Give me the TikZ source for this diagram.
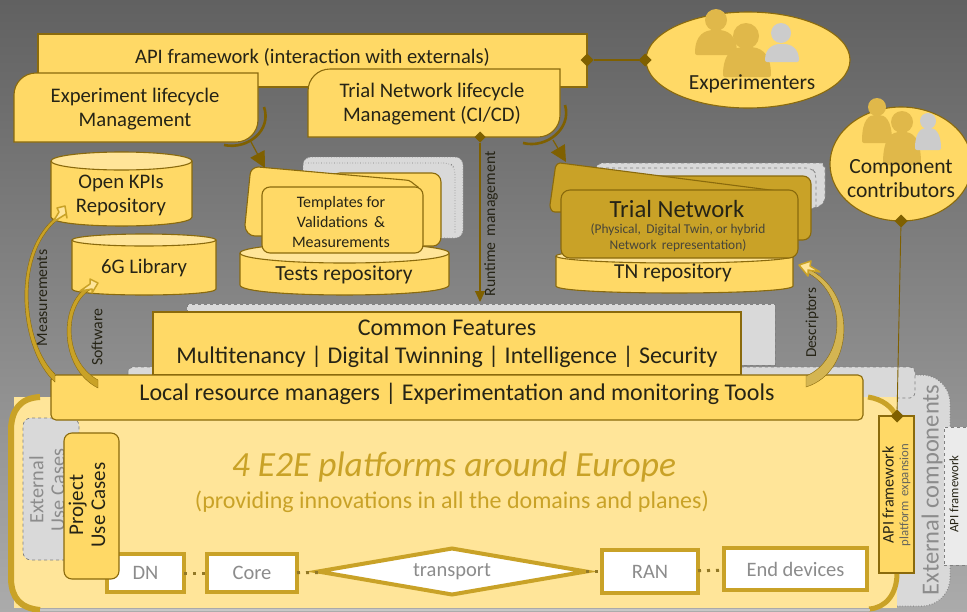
\documentclass[tikz,border=0pt]{standalone}
\usepackage{fontspec}
\setmainfont{Carlito}
\usetikzlibrary{arrows.meta,shapes.geometric,calc}
\definecolor{goldfill}{HTML}{FFD966}
\definecolor{goldlite}{HTML}{FFE599}
\definecolor{goldedge}{HTML}{8A6A0C}
\definecolor{goldmid}{HTML}{C9A227}
\definecolor{golddark}{HTML}{7F6000}
\definecolor{persona}{HTML}{E0B84A}
\definecolor{ink}{HTML}{262416}
\definecolor{soft}{HTML}{8C8C8C}
\definecolor{stack}{HTML}{D9D9D9}
\newcommand{\fsz}[1]{\fontsize{#1}{#1}\selectfont}
\tikzset{
  x=1pt,y=-1pt,
  every node/.style={text=ink,inner sep=0pt,outer sep=0pt,align=center},
  goldbox/.style={draw=goldedge,fill=goldfill,line width=1.1pt},
  stackbox/.style={draw=gray,fill=stack,dashed,line width=.7pt,rounded corners=8pt},
  whitebox/.style={draw=goldmid,fill=white,line width=4pt,text=soft},
  darkconn/.style={draw=golddark,line width=1.2pt},
  dotconn/.style={draw=golddark!85,line width=3pt,dash pattern=on 3pt off 6pt},
  bigtip/.style={-{Triangle[length=16pt,width=16pt]}},
  diam/.style={diamond,fill=golddark,minimum width=13pt,minimum height=13pt},
  lab/.style={rotate=90,font=\fsz{15.8}},
}
\newcommand{\person}[7]{%
  \fill[\pcol] (#1,#2) circle (#3);
  \fill[\pcol,rounded corners=2pt] ({#4-#5},#7) .. controls ({#4-#5},{#6+4}) and ({#4-.5*#5},#6) .. (#4,#6)
     .. controls ({#4+.5*#5},#6) and ({#4+#5},{#6+4}) .. ({#4+#5},#7) -- cycle;}
\newcommand{\pcol}{persona}
\newcommand{\cyl}[5]{%
  \fill[goldfill] (#1,#3) rectangle (#2,{#4-#5});
  \fill[goldfill] ({(#1+#2)/2},{#4-#5}) ellipse ({(#2-#1)/2} and #5);
  \draw[goldedge,line width=1.1pt] (#1,#3) -- (#1,{#4-#5}) .. controls (#1,{#4+.33*#5}) and (#2,{#4+.33*#5}) .. (#2,{#4-#5}) -- (#2,#3);
  \draw[goldedge,fill=goldlite,line width=1.1pt] ({(#1+#2)/2},#3) ellipse ({(#2-#1)/2} and #5);}
\begin{document}
\begin{tikzpicture}
\useasboundingbox (0,0) rectangle (967,611);
\shade[top color=black!62,bottom color=black!33] (0,0) rectangle (967,611);

% --- background stacks
\draw[stackbox,dotted] (303,157) rectangle (463,238);
\draw[gray,dotted,line width=.6pt,rounded corners=6pt] (303,163) -- (450,163) -- (455,168) -- (455,233);
\draw[stackbox,dashed,fill=stack] (595,163) -- (815,163) to[out=0,in=90] (825,175) -- (825,205) -- (790,214) -- (600,214) -- cycle;
\draw[gray,dashed,line width=.6pt,rounded corners=6pt] (600,168) -- (812,168) -- (816,174) -- (816,212);
\draw[stackbox,rounded corners=0pt] (187,304) rectangle (775,365);
\draw[stackbox,dotted,fill=stack,line width=1pt,rounded corners=28pt] (860,375) -- (950,375) -- (950,606) -- (860,606) -- cycle;
\node[lab,text=soft,font=\fsz{24.5}] (ext) at (932,490) {External components};
\draw[stackbox,rounded corners=5pt] (128,367) rectangle (915,398);

% --- API framework
\node[goldbox,minimum width=549pt,minimum height=53pt] (api) at (312.5,60.5) {};
\node[font=\fsz{20.6}] (apit) at (312.5,57.5) {API framework (interaction with externals)};

% --- lifecycle blocks
\draw[goldbox] (14,142) -- (14,95) to[out=90,in=180] (36,73) -- (258,73) -- (258,120) to[out=270,in=0] (236,142) -- cycle;
\coordinate (expcorner) at (250,140);
\node[font=\fsz{20.7}] (exp) at (135,109) {Experiment lifecycle\\[3.3pt]Management};
\draw[goldbox] (308,137) -- (308,91) to[out=90,in=180] (330,69) -- (560,69) -- (560,115) to[out=270,in=0] (538,137) -- cycle;
\coordinate (tncorner) at (553,140);
\node[font=\fsz{20.7}] (tnl) at (432,104) {Trial Network lifecycle\\[3.3pt]Management (CI/CD)};
\draw[golddark,line width=2.6pt] (224,145) .. controls (248,150) and (272,130) .. (264,107);
\draw[golddark,line width=2.6pt] (523,143) .. controls (547,149) and (572,128) .. (565,105);

% --- people ellipses
\node[ellipse,goldbox,minimum width=204pt,minimum height=96pt] (xpers) at (748,60) {};
\person{716}{20}{11}{716}{21}{30}{55}
\person{746}{36}{13}{747}{24}{47}{77}
\renewcommand{\pcol}{black!20}
\person{781}{33}{10}{782}{17}{44}{62}
\renewcommand{\pcol}{persona}
\node[font=\fsz{21.5}] (xt) at (752,84) {Experimenters};
\node[ellipse,goldbox,minimum width=142pt,minimum height=114pt] (cc) at (901,164) {};
\person{877}{107}{9}{877}{15}{115}{143}
\person{902}{122}{11}{902}{19}{132}{165}
\renewcommand{\pcol}{black!20}
\person{928}{121}{8}{928}{13}{128}{150}
\renewcommand{\pcol}{persona}
\node[font=\fsz{21.6}] (cct) at (901,179) {Component\\[2.4pt]contributors};

% --- api link
\node[diam] (d1) at (587,60) {};
\node[diam] (d2) at (645,60) {};
\draw[darkconn] (d1) -- (d2);

% --- repositories
\cyl{51}{192}{161}{226}{9}
\node[font=\fsz{20.7}] (kpi) at (121,195) {Open KPIs\\[3.3pt]Repository};
\cyl{72}{216}{240}{295}{6}
\node[font=\fsz{20.7}] (lib) at (144,268) {6G Library};
\cyl{240}{449}{253}{295}{10}
\node[font=\fsz{21.5}] (trep) at (344,275) {Tests repository};

\draw[goldbox] (340,173) -- (432,173) to[out=0,in=90] (441,182) -- (441,237) to[out=270,in=0] (433,246) -- (300,246) -- (300,180) -- cycle;
\draw[goldbox] (258,167) -- (405,180) to[out=5,in=150] (418,187) -- (300,236) -- (255,236) to[out=180,in=270] (245,225) -- (250,175) to[out=90,in=185] (258,167) -- cycle;
\node[goldbox,rounded corners=8pt,minimum width=161pt,minimum height=66pt] (tmpl) at (342.5,220) {};
\node[font=\fsz{16}] (tmplt) at (341,222) {Templates for\\[4pt]Validations \,\&\\[4pt]Measurements};

\cyl{556}{793}{256}{293}{7}
\node[font=\fsz{21.3}] (tnrep) at (673,273) {TN repository};
\draw[draw=goldedge,fill=goldmid,line width=1.1pt] (660,176) -- (803,176) to[out=0,in=90] (811,184) -- (811,232) to[out=270,in=0] (803,240) -- (640,240) -- (640,190) -- cycle;
\draw[draw=goldedge,fill=goldmid,line width=1.1pt] (560,163) -- (770,190) -- (610,212) -- (555,212) to[out=180,in=270] (550,205) -- (555,170) to[out=90,in=190] (560,163) -- cycle;
\node[draw=goldedge,fill=goldmid,line width=1.1pt,rounded corners=9pt,minimum width=237pt,minimum height=68pt] (tn) at (679.5,224) {};
\node[font=\fsz{24.7}] (tnt) at (677,209) {Trial Network};
\node[font=\fsz{13.4},text=ink!85] (tns) at (678,238) {(Physical, \,Digital Twin, or hybrid\\[2.6pt]Network \,representation)};

% --- arrows from lifecycle
\coordinate (ta) at (265,168);
\coordinate (tb) at (566,162);
\draw[darkconn,bigtip] (expcorner) -- (ta);
\draw[darkconn,bigtip] (tncorner) -- (tb);

% --- platform
\fill[goldlite] (14,397) rectangle (897,608);
\fill[goldlite] (40,397) -- (22,400) -- (11,420) -- (11,585) -- (22,603) -- (40,608) -- cycle;
\draw[goldmid,line width=6pt] (40,397) .. controls (20,398) and (12,410) .. (11,428) -- (11,580) .. controls (12,598) and (20,608) .. (40,610);
\draw[goldmid,line width=5pt] (868,397) .. controls (882,399) and (893,407) .. (897,418);
\draw[goldmid,line width=5pt] (897,573) .. controls (897,595) and (885,608) .. (869,609);
\fill[black!22] (40,608.5) rectangle (870,611);

\node[font=\itshape\fsz{35.4},text=goldmid] (ttl) at (454,467) {4 E2E platforms around Europe};
\node[font=\fsz{24},text=goldmid] (sub) at (452,502) {(providing innovations in all the domains and planes)};

\node[stackbox,rounded corners=8pt,minimum width=56pt,minimum height=142pt] (extuc) at (51,489) {};
\node[lab,font=\fsz{20.3},text=soft] at (47,490) {External\\[1pt]Use Cases};

% --- planes row
\node[whitebox,minimum width=77pt,minimum height=38pt,font=\fsz{20.5}] (dn) at (145.5,573) {\hspace*{0pt}DN};
\node[whitebox,minimum width=90pt,minimum height=38pt,font=\fsz{20.5}] (core) at (252,573) {Core};
\node[diamond,whitebox,minimum width=268pt,minimum height=46pt,aspect=5,font=\fsz{20.5}] (trans) at (452,571.5) {\raisebox{-3pt}{transport}};
\node[whitebox,minimum width=96pt,minimum height=43pt,font=\fsz{20.5}] (ran) at (650,571.5) {RAN};
\node[whitebox,minimum width=143pt,minimum height=42pt,font=\fsz{20.5}] (end) at (795.5,569) {End devices};
\draw[dotconn] (dn) -- (core);
\draw[dotconn] (core) -- (trans);
\draw[dotconn] (trans) -- (ran);
\draw[dotconn] (ran) -- (end);

\node[goldbox,rounded corners=8pt,minimum width=55pt,minimum height=146pt] (puc) at (91.5,506) {};
\node[lab,font=\fsz{21}] (puct) at (87,505) {Project\\[1pt]Use Cases};

% --- common features and local managers
\node[goldbox,minimum width=588pt,minimum height=63pt] (cf) at (447,343.5) {};
\node[font=\fsz{24}] (cft) at (447,344) {Common Features\\[4pt]Multitenancy | Digital Twinning | Intelligence | Security};
\node[goldbox,rounded corners=5pt,minimum width=812pt,minimum height=45pt] (lrm) at (457,397.5) {};
\node[font=\fsz{24}] (lrmt) at (457,394) {Local resource managers | Experimentation and monitoring Tools};

% --- right side API
\node[stackbox,rounded corners=0pt,fill=black!8,minimum width=26pt,minimum height=138pt] (api2) at (957,496) {};
\node[lab,font=\fsz{12.8}] at (954,494) {API framework};
\node[goldbox,minimum width=35pt,minimum height=157pt] (apif) at (896.5,494.5) {};
\node[lab,font=\fsz{16.2}] (apift) at (888,495) {API framework};
\node[lab,font=\fsz{12.8},text=ink!70] (apifs) at (905,495) {platform \,expansion};
\node[diam] (d3) at (901,221) {};
\node[diam] (d4) at (897,416) {};
\draw[darkconn,line width=.9pt] (d3) -- (d4);

% --- runtime management
\node[diam,minimum width=11pt,minimum height=11pt] (d5) at (480,137) {};
\coordinate (rtend) at (480,302);
\draw[darkconn,-{Triangle[length=11pt,width=10pt]}] (d5) -- (rtend);
\node[lab,font=\fsz{15.7}] (rt) at (491,224) {Runtime \,management};

% --- tapered arrows
\fill[goldmid,draw=goldedge,line width=.4pt] (55,382) .. controls (20,352) and (8,250) .. (60,214) -- (62,216) .. controls (12,252) and (24,345) .. (55,374) -- cycle;
\draw[goldmid,fill=goldlite,line width=1.5pt,line join=round] (65,206) -- (57,208) -- (59,212) -- (53,222) -- (66,214) -- (67,218) -- cycle;
\fill[goldmid,draw=goldedge,line width=.4pt] (98,388) .. controls (58,368) and (58,300) .. (91,285) -- (93,288) .. controls (64,302) and (62,360) .. (98,380) -- cycle;
\draw[goldmid,fill=goldlite,line width=1.5pt,line join=round] (98,283) -- (90,279) -- (90,284) -- (80,291) -- (92,289) -- (92,293) -- cycle;
\fill[goldmid!80!white,draw=goldedge,line width=.4pt] (806,387) .. controls (855,372) and (858,290) .. (806,268) -- (804,271) .. controls (850,292) and (845,360) .. (806,376) -- cycle;
\draw[goldmid,fill=goldlite,line width=1.5pt,line join=round] (799,265) -- (811,261) -- (810,266) -- (820,272) -- (808,270) -- (808,276) -- cycle;
\node[lab] (mlab) at (42,298) {Measurements};
\node[lab] (slab) at (97,337) {Software};
\node[lab,font=\fsz{15.2}] (dlab) at (812,323) {Descriptors};
\end{tikzpicture}
\end{document}
